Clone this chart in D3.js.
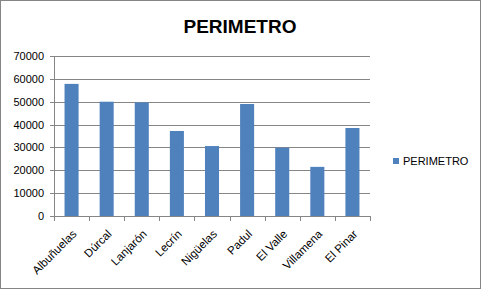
<!DOCTYPE html>
<html>
<head>
<meta charset="utf-8">
<script src="https://cdn.jsdelivr.net/npm/d3@7"></script>
<style>
  body { margin: 0; background: #fff; }
  svg { display: block; }
</style>
</head>
<body>
<div id="chart"></div>
<script>
const categories = ['Albuñuelas', 'Dúrcal', 'Lanjarón', 'Lecrín', 'Nigüelas', 'Padul', 'El Valle', 'Villamena', 'El Pinar'];
const perimetro = [57800, 50000, 49700, 37200, 30600, 49000, 29900, 21500, 38500];
const yTicks = [0, 10000, 20000, 30000, 40000, 50000, 60000, 70000];
const seriesName = 'PERIMETRO';

const width = 481, height = 289;
const plot = { left: 54, right: 370, top: 56, bottom: 216 };
const gridColor = '#868686';
const barColor = '#4f81bd';
const font = "'Liberation Sans', Arial, sans-serif";

const svg = d3.select('#chart')
    .append('svg')
    .attr('width', width)
    .attr('height', height);

svg.append('rect')
    .attr('x', 0.5).attr('y', 0.5)
    .attr('width', width - 1).attr('height', height - 1)
    .attr('fill', '#fff')
    .attr('stroke', gridColor);

const x = d3.scaleBand()
    .domain(categories)
    .range([plot.left, plot.right])
    .paddingInner(0.6)
    .paddingOuter(0.3);

const y = d3.scaleLinear()
    .domain([0, 70000])
    .range([plot.bottom, plot.top]);

// gridlines + y labels
const yAxis = svg.append('g')
    .attr('transform', `translate(${plot.left},0)`)
    .call(d3.axisLeft(y).tickValues(yTicks).tickFormat(d3.format('d'))
        .tickSize(-(plot.right - plot.left)).tickSizeOuter(0).tickPadding(10));
yAxis.select('.domain').remove();
yAxis.selectAll('.tick line')
    .attr('stroke', gridColor)
    .attr('x1', -4)
    .attr('shape-rendering', 'crispEdges');
yAxis.selectAll('.tick text')
    .attr('font-family', font)
    .attr('font-size', 11)
    .attr('fill', '#000');

svg.append('line')
    .attr('x1', plot.left).attr('x2', plot.left)
    .attr('y1', plot.top).attr('y2', plot.bottom)
    .attr('stroke', gridColor)
    .attr('shape-rendering', 'crispEdges');

// bars
svg.append('g')
    .selectAll('rect')
    .data(perimetro)
    .join('rect')
    .attr('x', (d, i) => x(categories[i]))
    .attr('y', d => y(d))
    .attr('width', x.bandwidth())
    .attr('height', d => y(0) - y(d))
    .attr('fill', barColor);

// x axis, ticks sit between categories
const xb = d3.scaleLinear().domain([0, categories.length]).range([plot.left, plot.right]);
const xAxis = svg.append('g')
    .attr('transform', `translate(0,${plot.bottom})`)
    .call(d3.axisBottom(xb).tickValues(d3.range(categories.length + 1)).tickSize(5).tickFormat(''));
xAxis.selectAll('line, path')
    .attr('stroke', gridColor)
    .attr('shape-rendering', 'crispEdges');
xAxis.select('.domain').attr('d', `M${plot.left},0.5H${plot.right}`);

svg.append('g')
    .selectAll('text')
    .data(categories)
    .join('text')
    .attr('transform', d => `translate(${x(d) + x.bandwidth() / 2},${plot.bottom + 13}) rotate(-45)`)
    .attr('text-anchor', 'end')
    .attr('dy', '0.7em')
    .attr('font-family', font)
    .attr('font-size', 11.5)
    .attr('fill', '#000')
    .text(d => d);

// title
svg.append('text')
    .attr('x', 240)
    .attr('y', 33)
    .attr('text-anchor', 'middle')
    .attr('font-family', font)
    .attr('font-weight', 'bold')
    .attr('font-size', 19)
    .attr('fill', '#000')
    .text(seriesName);

// legend
const legend = svg.append('g').attr('transform', 'translate(393,158)');
legend.append('rect')
    .attr('width', 6).attr('height', 6)
    .attr('fill', barColor);
legend.append('text')
    .attr('x', 10)
    .attr('y', 3)
    .attr('dy', '0.35em')
    .attr('font-family', font)
    .attr('font-size', 11)
    .attr('fill', '#000')
    .text(seriesName);
</script>
</body>
</html>
